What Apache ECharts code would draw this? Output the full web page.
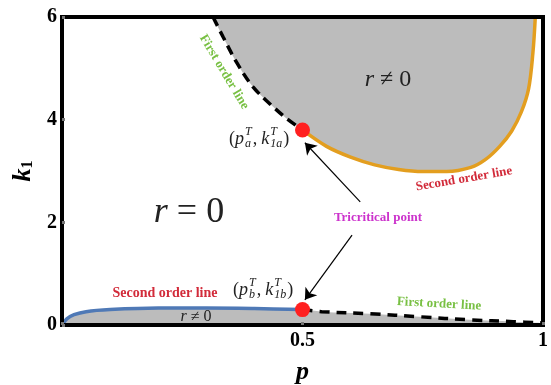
<!DOCTYPE html>
<html>
<head>
<meta charset="utf-8">
<script src="https://cdn.jsdelivr.net/npm/echarts@6/dist/echarts.min.js"></script>
<style>
html, body { margin: 0; padding: 0; background: #fff; }
#main { width: 551px; height: 385px; }
</style>
</head>
<body>
<div id="main"></div>
<script>
// phase boundaries, each point is [p, k1]
var firstOrderUpper = [[0.314, 6.0], [0.335, 5.61], [0.364, 5.10], [0.397, 4.64], [0.439, 4.25], [0.47, 4.0], [0.5, 3.8]];
var secondOrderUpper = [[0.5, 3.8], [0.55, 3.48], [0.6, 3.27], [0.65, 3.12], [0.7, 3.03], [0.75, 2.99], [0.8, 2.99],
    [0.85, 3.07], [0.88, 3.22], [0.91, 3.48], [0.935, 3.78], [0.955, 4.15], [0.97, 4.6], [0.979, 5.3], [0.984, 6.0]];
var secondOrderLower = [[0, 0], [0.01, 0.12], [0.025, 0.2], [0.05, 0.26], [0.1, 0.3], [0.2, 0.33], [0.3, 0.33], [0.4, 0.32], [0.5, 0.3]];
var firstOrderLower = [[0.5, 0.3], [0.54, 0.26], [0.64, 0.22], [0.744, 0.16], [0.848, 0.1], [0.938, 0.065], [1.0, 0.04]];
var tricritical = [[0.5, 3.8], [0.5, 0.3]];
var xTickLabels = ['0.5', '1'];
var yTickLabels = ['0', '2', '4', '6'];

var serif = '"Liberation Serif", "Times New Roman", serif';
var chart = echarts.init(document.getElementById('main'));

var measure = document.createElement('canvas').getContext('2d');
function textWidth(t, font) {
    measure.font = font;
    return measure.measureText(t).width;
}

function txt(x, y, text, font, color, rot) {
    return {
        type: 'text', x: x, y: y, rotation: rot || 0, z: 20,
        style: {text: text, font: font, fill: color, textAlign: 'center', textVerticalAlign: 'middle', align: 'center', verticalAlign: 'middle'}
    };
}

// "r = 0" style text: italic r, upright rest
function mathTxt(x, y, rest, size) {
    return {
        type: 'text', x: x, y: y, z: 20,
        style: {
            text: '{i|r}{n|' + rest + '}', textAlign: 'center', textVerticalAlign: 'middle', align: 'center', verticalAlign: 'middle',
            rich: {
                i: {fontFamily: serif, fontStyle: 'italic', fontSize: size, fill: '#222', color: '#222'},
                n: {fontFamily: serif, fontSize: size, fill: '#222', color: '#222'}
            }
        }
    };
}

// (p_a^T, k_1a^T) style label, built piece by piece
function pointLabel(left, cy, s1, s2) {
    var big = 'italic 18px ' + serif, rom = '18px ' + serif, small = 'italic 12px ' + serif;
    var out = [], x = left;
    function put(t, font, dy) {
        out.push({type: 'text', x: x, y: cy + dy, z: 20,
            style: {text: t, font: font, fill: '#222', textAlign: 'left', textVerticalAlign: 'middle', align: 'left', verticalAlign: 'middle'}});
    }
    put('(', rom, 0); x += textWidth('(', rom);
    put('p', big, 0); x += textWidth('p', big) + 1;
    put('T', small, -7); put(s1, small, 5);
    x += Math.max(textWidth('T', small), textWidth(s1, small)) + 1;
    put(',', rom, 0); x += textWidth(',', rom) + 4;
    put('k', big, 0); x += textWidth('k', big) + 1;
    put('T', small, -7); put(s2, small, 5);
    x += Math.max(textWidth('T', small), textWidth(s2, small)) + 1;
    put(')', rom, 0);
    return out;
}

var upperFill = firstOrderUpper.concat(secondOrderUpper.slice(1));
var lowerFill = secondOrderLower.concat(firstOrderLower.slice(1));

var labelStyle = {fontFamily: serif, fontWeight: 'bold', fontSize: 20, color: '#000'};
var frameLine = {show: true, onZero: false, lineStyle: {color: '#000', width: 4, cap: 'square'}};
var smoothing = 0.35;

var option = {
    animation: false,
    backgroundColor: '#fff',
    grid: {left: 62, right: 8, top: 17, bottom: 60, containLabel: false, outerBoundsMode: 'none'},
    xAxis: [{
        type: 'value', min: 0, max: 1, interval: 0.5, z: 10,
        axisLine: frameLine,
        axisTick: {show: true, inside: true, length: 3, lineStyle: {color: '#777', width: 3}},
        splitLine: {show: false},
        axisLabel: Object.assign({margin: 6, formatter: function (v) {
            return v === 0.5 ? xTickLabels[0] : (v === 1 ? xTickLabels[1] : '');
        }}, labelStyle),
        name: 'p', nameLocation: 'middle', nameGap: 34,
        nameTextStyle: {fontFamily: serif, fontWeight: 'bold', fontStyle: 'italic', fontSize: 26, color: '#000'}
    }, {
        type: 'value', position: 'top', min: 0, max: 1, z: 10,
        axisLine: frameLine, axisTick: {show: false}, axisLabel: {show: false}, splitLine: {show: false}
    }],
    yAxis: [{
        type: 'value', min: 0, max: 6, interval: 2, z: 10,
        axisLine: frameLine,
        axisTick: {show: true, inside: true, length: 3, lineStyle: {color: '#777', width: 3}},
        splitLine: {show: false},
        axisLabel: Object.assign({margin: 5, formatter: function (v) { return yTickLabels[v / 2]; }}, labelStyle),
        name: '{k|k}{s|1}', nameLocation: 'middle', nameGap: 24,
        nameTextStyle: {rich: {
            k: {fontFamily: serif, fontWeight: 'bold', fontStyle: 'italic', fontSize: 26, color: '#000'},
            s: {fontFamily: serif, fontWeight: 'bold', fontSize: 16, color: '#000', verticalAlign: 'bottom', padding: [8, 0, 0, 0]}
        }}
    }, {
        type: 'value', position: 'right', min: 0, max: 6, z: 10,
        axisLine: frameLine, axisTick: {show: false}, axisLabel: {show: false}, splitLine: {show: false}
    }],
    series: [{
        type: 'line', data: upperFill, symbol: 'none', smooth: smoothing, silent: true, z: 1,
        lineStyle: {width: 0}, areaStyle: {color: '#bcbcbc', opacity: 1, origin: 'end'}
    }, {
        type: 'line', data: lowerFill, symbol: 'none', smooth: smoothing, silent: true, z: 1,
        lineStyle: {width: 0}, areaStyle: {color: '#bcbcbc', opacity: 1, origin: 'start'}
    }, {
        type: 'line', data: firstOrderUpper, symbol: 'none', smooth: smoothing, z: 3,
        lineStyle: {color: '#000', width: 3.5, type: [10, 6]}
    }, {
        type: 'line', data: secondOrderUpper, symbol: 'none', smooth: smoothing, z: 3,
        lineStyle: {color: '#e39e1f', width: 3.5}
    }, {
        type: 'line', data: secondOrderLower, symbol: 'none', smooth: smoothing, z: 3,
        lineStyle: {color: '#4f79b6', width: 3.5}
    }, {
        type: 'line', data: firstOrderLower, symbol: 'none', smooth: smoothing, z: 3,
        lineStyle: {color: '#000', width: 3.5, type: [10, 7]}
    }, {
        type: 'scatter', data: tricritical, symbol: 'circle', symbolSize: 15, z: 5,
        itemStyle: {color: '#ff2020', opacity: 1},
        markLine: {
            silent: true, symbol: ['none', 'arrow'], symbolSize: 11,
            lineStyle: {color: '#000', width: 1.2, type: 'solid'},
            label: {show: false},
            data: [
                [{coord: [0.62, 2.40]}, {coord: [0.505, 3.55]}],
                [{coord: [0.603, 1.75]}, {coord: [0.505, 0.49]}]
            ]
        }
    }],
    graphic: [
        txt(224, 72, 'First order line', 'bold 13px ' + serif, '#78c043', -1.03),
        txt(464, 179, 'Second order line', 'bold 13px ' + serif, '#d22b3a', 0.17),
        txt(165, 293, 'Second order line', 'bold 14px ' + serif, '#d22b3a', 0),
        txt(439, 304, 'First order line', 'bold 13px ' + serif, '#78c043', -0.055),
        txt(378, 218, 'Tricritical point', 'bold 13px ' + serif, '#cc33cc', 0),
        mathTxt(388, 80, ' \u2260 0', 24),
        mathTxt(189, 213, ' = 0', 36),
        mathTxt(196, 317, ' \u2260 0', 16)
    ].concat(pointLabel(229, 139, 'a', '1a'), pointLabel(233, 290, 'b', '1b'))
};
chart.setOption(option);
</script>
</body>
</html>
